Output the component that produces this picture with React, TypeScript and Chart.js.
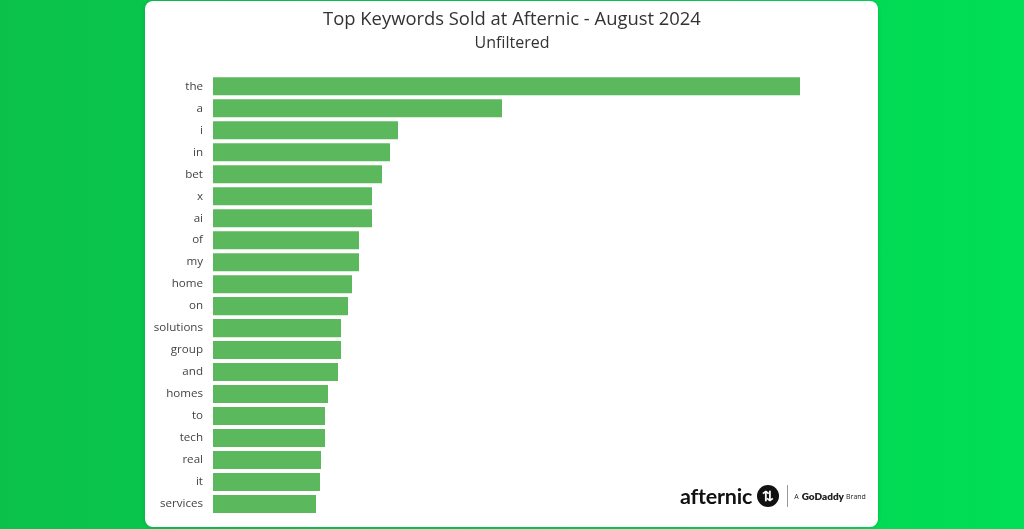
import React, { useEffect, useRef } from "react";
import { Chart, registerables } from "chart.js";

Chart.register(...registerables);

const categories = [
  "the", "a", "i", "in", "bet", "x", "ai", "of", "my", "home",
  "on", "solutions", "group", "and", "homes", "to", "tech", "real", "it", "services",
];
const values = [
  587, 289, 185, 177, 169, 159, 159, 146, 146, 139,
  135, 128, 128, 125, 115, 112, 112, 108, 107, 103,
];
const titleText = "Top Keywords Sold at Afternic - August 2024";
const subtitleText = "Unfiltered";

export default function App() {
  const ref = useRef<HTMLCanvasElement | null>(null);

  useEffect(() => {
    if (!ref.current) return;
    const chart = new Chart(ref.current, {
      type: "bar",
      data: {
        labels: categories,
        datasets: [
          {
            data: values,
            backgroundColor: "#5cb85c",
            borderWidth: 0,
            barPercentage: 0.82,
            categoryPercentage: 1,
          },
        ],
      },
      options: {
        indexAxis: "y",
        animation: false,
        responsive: false,
        maintainAspectRatio: false,
        layout: { padding: { left: 0, right: 0, top: 0, bottom: 14 } },
        plugins: {
          legend: { display: false },
          tooltip: { enabled: false },
          title: {
            display: true,
            text: titleText,
            color: "#333333",
            font: { family: "'Open Sans', sans-serif", size: 18.4, weight: "normal", lineHeight: 1.2 },
            padding: { top: 9, bottom: 0 },
          },
          subtitle: {
            display: true,
            text: subtitleText,
            color: "#333333",
            font: { family: "'Open Sans', sans-serif", size: 16, weight: "normal", lineHeight: 1.2 },
            padding: { top: 3, bottom: 22 },
          },
        },
        scales: {
          x: { display: false, min: 0, max: 811 },
          y: {
            afterFit: (scale: any) => {
              scale.width = 213;
              scale.paddingTop = 0;
              scale.paddingBottom = 0;
            },
            grid: { display: false, drawTicks: false },
            border: { display: false },
            ticks: {
              color: "#444444",
              padding: 10,
              font: { family: "'Open Sans', sans-serif", size: 11.6 },
            },
          },
        },
      },
    });
    return () => chart.destroy();
  }, []);

  return (
    <div
      style={{
        position: "fixed",
        left: 0,
        top: 0,
        width: 1024,
        height: 529,
        background: "linear-gradient(90deg, #0bc14a 0%, #05cf50 50%, #00df56 100%)",
        overflow: "hidden",
        fontFamily: "'Open Sans', sans-serif",
      }}
    >
      <div
        style={{
          position: "absolute",
          left: 145,
          top: 1,
          width: 733,
          height: 526,
          background: "#ffffff",
          borderRadius: 8,
          boxShadow: "0 0 4px rgba(0,0,0,0.15)",
        }}
      />
      <canvas
        ref={ref}
        width={1024}
        height={529}
        style={{ position: "absolute", left: 0, top: 0, width: 1024, height: 529 }}
      />
      <div
        style={{
          position: "absolute",
          left: 680,
          top: 482,
          height: 28,
          display: "flex",
          alignItems: "center",
        }}
      >
        <span style={{ fontFamily: "Lato, sans-serif", fontWeight: 700, fontSize: 21.5, color: "#111", letterSpacing: -0.2 }}>
          afternic
        </span>
        <span
          style={{
            display: "inline-block",
            width: 22,
            height: 22,
            borderRadius: 11,
            background: "#111",
            color: "#fff",
            fontSize: 14,
            lineHeight: "22px",
            textAlign: "center",
            marginLeft: 5,
            fontWeight: 700,
          }}
        >
          ⇅
        </span>
        <span style={{ display: "inline-block", width: 1, height: 22, background: "#999", marginLeft: 8, marginRight: 6 }} />
        <span style={{ fontSize: 7, color: "#222", marginRight: 3 }}>A</span>
        <span style={{ fontSize: 10, fontWeight: 800, color: "#222", fontFamily: "Lato, sans-serif" }}>GoDaddy</span>
        <span style={{ fontSize: 7, color: "#222", marginLeft: 2 }}>Brand</span>
      </div>
    </div>
  );
}
